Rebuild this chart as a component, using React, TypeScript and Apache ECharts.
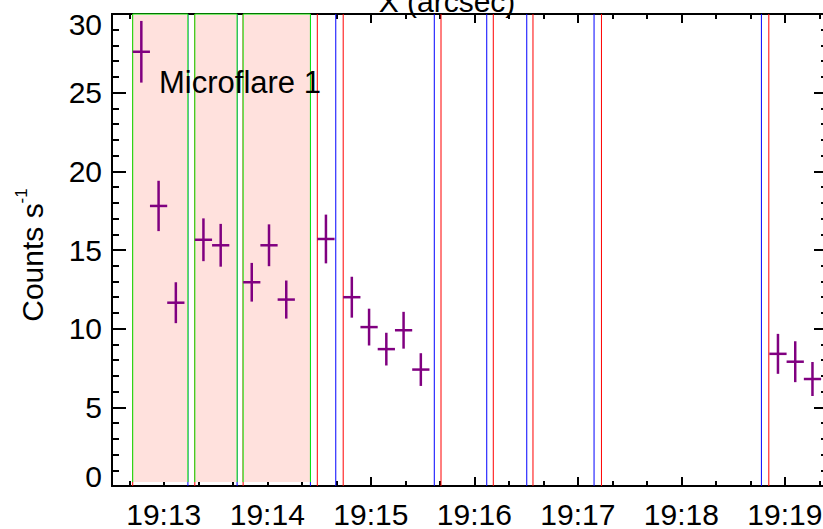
import React, { useEffect, useRef } from "react";
import * as echarts from "echarts";

// Times are seconds after 19:00:00 UT.
const T_START = 750; // 19:12:30
const T_END = 1165;

// Count-rate light curve: bin centres, rates and 1-sigma errors
const binTimes = [767, 777, 787, 803, 813, 831, 841, 851, 874, 889, 899, 909, 919, 929, 1136, 1146, 1156];
const countRates = [27.6, 17.8, 11.65, 15.65, 15.3, 12.95, 15.3, 11.85, 15.7, 12.0, 10.1, 8.7, 9.9, 7.4, 8.4, 7.9, 6.8];
const rateErrors = [1.96, 1.6, 1.3, 1.36, 1.36, 1.23, 1.33, 1.21, 1.55, 1.3, 1.17, 1.04, 1.17, 1.04, 1.27, 1.3, 1.08];
const BIN_HALF = 5;

// Microflare 1 sub-intervals
const flareStarts = [762, 798, 826];
const flareEnds = [794, 822.5, 865];
const FLARE_FLOOR = 0.25;

// Interval start (red) and end (blue) markers
const redLines = [762, 798, 826, 869, 884, 940.7, 971, 994, 1033.7, 1130.7];
const blueLines = [794, 822.5, 865, 879.7, 936.8, 967.2, 990.4, 1029.4, 1126.4];

// Time axis ticks
const majorTicks = [780, 840, 900, 960, 1020, 1080, 1140];
const minorTicks = [760, 800, 820, 860, 880, 920, 940, 980, 1000, 1040, 1060, 1100, 1120, 1160];

const Y_MIN = 0;
const Y_MAX = 30;

const FONT = "'Liberation Sans', Arial, Helvetica, sans-serif";
const INK = "#000000";
const PURPLE = "#800080";

const timeLabel = (v: number) => `19:${String(Math.round(v / 60)).padStart(2, "0")}`;

function xAxisDef(position: "top" | "bottom", ticks: number[], length: number, labels: boolean) {
  return {
    type: "value",
    position,
    min: T_START,
    max: T_END,
    axisLine: { show: true, onZero: false, lineStyle: { color: INK, width: 2 } },
    axisTick: {
      show: true,
      inside: true,
      length,
      customValues: ticks,
      lineStyle: { color: INK, width: 2 },
    },
    axisLabel: labels
      ? {
          show: true,
          customValues: ticks,
          formatter: (v: number) => timeLabel(v),
          fontFamily: FONT,
          fontSize: 30,
          color: INK,
          margin: 13,
        }
      : { show: false },
    splitLine: { show: false },
  };
}

// End labels of the count axis sit inside the frame: 30 below its tick, 0 above it
const yLabel = (v: number) => (v === Y_MAX ? `{hi|${v}}` : v === Y_MIN ? `{lo|${v}}` : `${v}`);

function yAxisDef(position: "left" | "right", labels: boolean) {
  return {
    type: "value",
    position,
    min: Y_MIN,
    max: Y_MAX,
    interval: 5,
    axisLine: { show: true, onZero: false, lineStyle: { color: INK, width: 2 } },
    axisTick: { show: true, inside: true, length: 14, lineStyle: { color: INK, width: 2 } },
    minorTick: { show: true, splitNumber: 5, length: 7, lineStyle: { color: INK, width: 2 } },
    axisLabel: labels
      ? {
          show: true,
          fontFamily: FONT,
          fontSize: 30,
          color: INK,
          margin: 10,
          formatter: yLabel,
          rich: {
            hi: { fontFamily: FONT, fontSize: 30, color: INK, padding: [20, 0, 0, 0] },
            lo: { fontFamily: FONT, fontSize: 30, color: INK, padding: [0, 0, 20, 0] },
          },
        }
      : { show: false },
    splitLine: { show: false },
    minorSplitLine: { show: false },
  };
}

function markerSeries(times: number[], color: string) {
  return {
    type: "custom",
    xAxisIndex: 0,
    yAxisIndex: 0,
    z: 2,
    silent: true,
    data: times.map((t) => [t, 0]),
    encode: { x: 0, y: 1 },
    renderItem: (_p: any, api: any) => {
      const top = api.coord([api.value(0), Y_MAX]);
      const bot = api.coord([api.value(0), Y_MIN]);
      return {
        type: "line",
        shape: { x1: top[0], y1: top[1], x2: bot[0], y2: bot[1] },
        style: { stroke: color, lineWidth: 1 },
      };
    },
  };
}

export default function App() {
  const ref = useRef<HTMLDivElement>(null);

  useEffect(() => {
    if (!ref.current) return;
    const chart = echarts.init(ref.current, undefined, { renderer: "svg" });

    const option = {
      animation: false,
      backgroundColor: "#ffffff",
      grid: { left: 112, top: 14, width: 716, height: 474, containLabel: false },
      xAxis: [
        xAxisDef("bottom", majorTicks, 9, true),
        xAxisDef("bottom", minorTicks, 5, false),
        xAxisDef("top", majorTicks, 9, false),
        xAxisDef("top", minorTicks, 5, false),
      ],
      yAxis: [yAxisDef("left", true), yAxisDef("right", false)],
      graphic: [
        {
          type: "text",
          x: 447,
          y: 1.5,
          z: 10,
          style: {
            text: "X (arcsec)",
            fontFamily: FONT,
            fontSize: 30,
            fill: INK,
            textAlign: "center",
            textVerticalAlign: "middle",
          },
        },
        {
          type: "text",
          x: 159,
          y: 82.5,
          z: 10,
          style: {
            text: "Microflare 1",
            fontFamily: FONT,
            fontSize: 31,
            fill: INK,
            textAlign: "left",
            textVerticalAlign: "middle",
          },
        },
        {
          type: "text",
          x: 30,
          y: 255,
          rotation: Math.PI / 2,
          z: 10,
          style: {
            text: "{m|Counts s}{s|-1}",
            fill: INK,
            textAlign: "center",
            textVerticalAlign: "middle",
            rich: {
              m: { fontFamily: FONT, fontSize: 30, lineHeight: 34, verticalAlign: "bottom", fill: INK },
              s: { fontFamily: FONT, fontSize: 17, lineHeight: 17, verticalAlign: "top", fill: INK },
            },
          },
        },
      ],
      series: [
        markerSeries(redLines, "#ff0000"),
        markerSeries(blueLines, "#0000ff"),
        {
          type: "custom",
          xAxisIndex: 0,
          yAxisIndex: 0,
          z: 3,
          silent: true,
          data: flareStarts.map((s, i) => [s, flareEnds[i]]),
          encode: { x: [0, 1] },
          renderItem: (_p: any, api: any) => {
            const a = api.coord([api.value(0), Y_MAX]);
            const b = api.coord([api.value(1), FLARE_FLOOR]);
            return {
              type: "group",
              children: [
                {
                  type: "rect",
                  shape: { x: a[0], y: a[1], width: b[0] - a[0], height: b[1] - a[1] },
                  style: { fill: "#ffe1dd" },
                },
                {
                  type: "polyline",
                  shape: {
                    points: [
                      [a[0], b[1]],
                      [a[0], a[1]],
                      [b[0], a[1]],
                      [b[0], b[1]],
                    ],
                  },
                  style: { stroke: "#00ee00", lineWidth: 1, fill: null },
                },
              ],
            };
          },
        },
        {
          type: "custom",
          xAxisIndex: 0,
          yAxisIndex: 0,
          z: 4,
          silent: true,
          data: binTimes.map((t, i) => [t, countRates[i], rateErrors[i]]),
          encode: { x: 0, y: 1 },
          renderItem: (_p: any, api: any) => {
            const t = api.value(0);
            const r = api.value(1);
            const e = api.value(2);
            const l = api.coord([t - BIN_HALF, r]);
            const rr = api.coord([t + BIN_HALF, r]);
            const lo = api.coord([t, r - e]);
            const hi = api.coord([t, r + e]);
            const st = { stroke: PURPLE, lineWidth: 2.5 };
            return {
              type: "group",
              children: [
                { type: "line", shape: { x1: l[0], y1: l[1], x2: rr[0], y2: rr[1] }, style: st },
                { type: "line", shape: { x1: lo[0], y1: lo[1], x2: hi[0], y2: hi[1] }, style: st },
              ],
            };
          },
        },
      ],
    };

    chart.setOption(option as any);
    return () => chart.dispose();
  }, []);

  return (
    <div
      style={{
        position: "absolute",
        left: 0,
        top: 0,
        width: 823,
        height: 529,
        overflow: "hidden",
        background: "#ffffff",
      }}
    >
      <div ref={ref} style={{ width: 840, height: 529 }} />
    </div>
  );
}
